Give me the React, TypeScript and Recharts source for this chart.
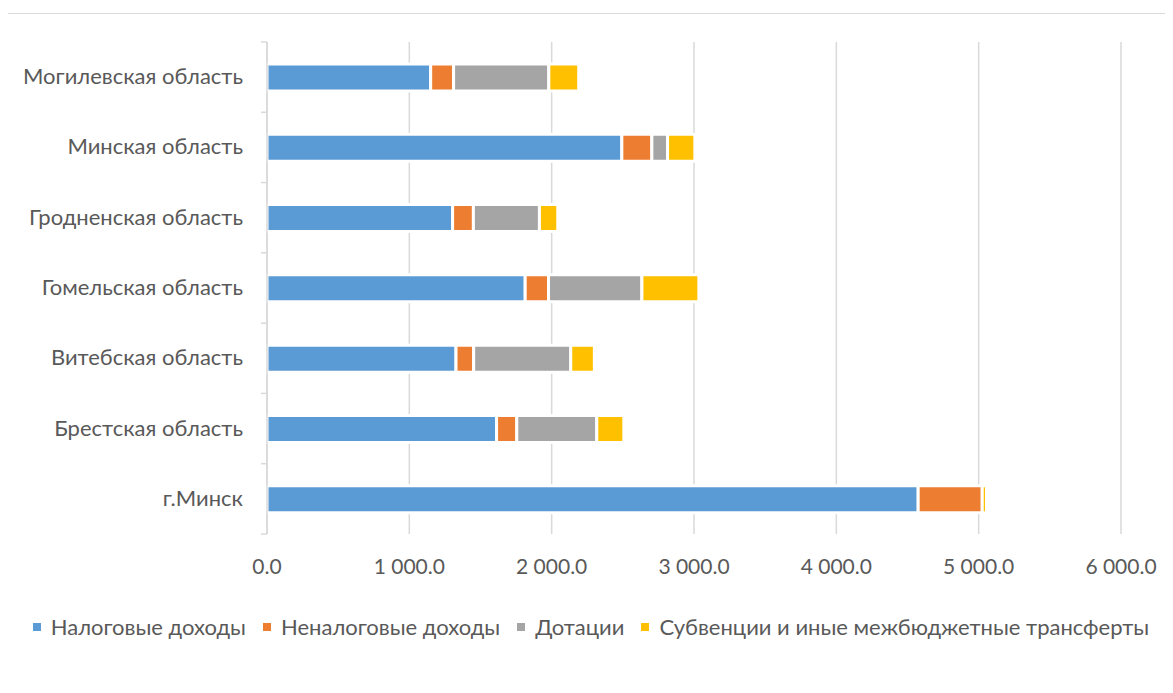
import React from "react";
import { BarChart, Bar, XAxis, YAxis, CartesianGrid } from "recharts";

const regions = [
  "Могилевская область",
  "Минская область",
  "Гродненская область",
  "Гомельская область",
  "Витебская область",
  "Брестская область",
  "г.Минск",
];
const taxIncome = [1150, 2493, 1304, 1814, 1328, 1613, 4575];
const nonTaxIncome = [161, 211, 146, 164, 124, 142, 450];
const grants = [669, 110, 464, 656, 682, 562, 0];
const subventions = [210, 192, 129, 400, 166, 190, 30];
const xTicks = [0, 1000, 2000, 3000, 4000, 5000, 6000];

const seriesNames = [
  "Налоговые доходы",
  "Неналоговые доходы",
  "Дотации",
  "Субвенции и иные межбюджетные трансферты",
];
const colors = ["#5B9BD5", "#ED7D31", "#A5A5A5", "#FFC000"];

const data = regions.map((r, i) => ({
  region: r,
  s0: taxIncome[i],
  s1: nonTaxIncome[i],
  s2: grants[i],
  s3: subventions[i],
}));

const FONT = "Lato, 'Open Sans', sans-serif";
const TEXT = "#595959";
const GRID = "#d9d9d9";

const fmt = (v: number) => {
  const s = v.toFixed(1);
  const [int, dec] = s.split(".");
  return int.replace(/\B(?=(\d{3})+(?!\d))/g, " ") + "." + dec;
};

const YTick = (props: any) => {
  const { x, y, payload, index } = props;
  const axisX = x + 24;
  const half = 35.15;
  return (
    <g>
      <text x={x} y={y} dy={7} textAnchor="end" fill={TEXT} fontSize={22} fontFamily={FONT}>
        {payload.value}
      </text>
      <line x1={axisX - 6} x2={axisX} y1={y - half} y2={y - half} stroke={GRID} strokeWidth={1.5} />
      {index === regions.length - 1 && (
        <line x1={axisX - 6} x2={axisX} y1={y + half} y2={y + half} stroke={GRID} strokeWidth={1.5} />
      )}
    </g>
  );
};

export default function App() {
  return (
    <div
      style={{
        position: "relative",
        width: 1165,
        height: 680,
        marginTop: 5,
        marginLeft: -1,
        borderLeft: "1.5px solid #d9d9d9",
        borderTop: "1.5px solid #d9d9d9",
        background: "#fff",
      }}
    >
      <BarChart
        width={1165}
        height={680}
        data={data}
        layout="vertical"
        margin={{ top: 28, right: 52, left: 0, bottom: 130 }}
        barSize={27}
      >
        <CartesianGrid horizontal={false} stroke={GRID} strokeWidth={1.5} />
        <XAxis
          type="number"
          domain={[0, 6000]}
          ticks={xTicks}
          tickFormatter={fmt}
          axisLine={false}
          tickLine={false}
          tickMargin={19}
          tick={{ fill: TEXT, fontSize: 21, fontFamily: FONT }}
          interval={0}
        />
        <YAxis
          type="category"
          dataKey="region"
          width={259}
          axisLine={{ stroke: GRID, strokeWidth: 1.5 }}
          tickLine={false}
          tickSize={0}
          tickMargin={24}
          tick={<YTick />}
          interval={0}
        />
        {[0, 1, 2, 3].map((k) => (
          <Bar
            key={k}
            dataKey={"s" + k}
            name={seriesNames[k]}
            stackId="a"
            fill={colors[k]}
            stroke="#fff"
            strokeWidth={3}
            isAnimationActive={false}
          />
        ))}
      </BarChart>
      <div
        style={{
          position: "absolute",
          top: 603,
          left: 0,
          width: 1166,
          height: 20,
          display: "flex",
          justifyContent: "center",
          alignItems: "center",
          fontFamily: FONT,
          fontSize: 22,
          color: TEXT,
          whiteSpace: "nowrap",
        }}
      >
        {seriesNames.map((n, i) => (
          <div key={n} style={{ display: "flex", alignItems: "center", marginRight: i < 3 ? 17 : 0 }}>
            <span
              style={{
                display: "inline-block",
                width: 8,
                height: 8,
                background: colors[i],
                marginRight: 10,
              }}
            />
            <span style={{ lineHeight: "20px" }}>{n}</span>
          </div>
        ))}
      </div>
    </div>
  );
}
